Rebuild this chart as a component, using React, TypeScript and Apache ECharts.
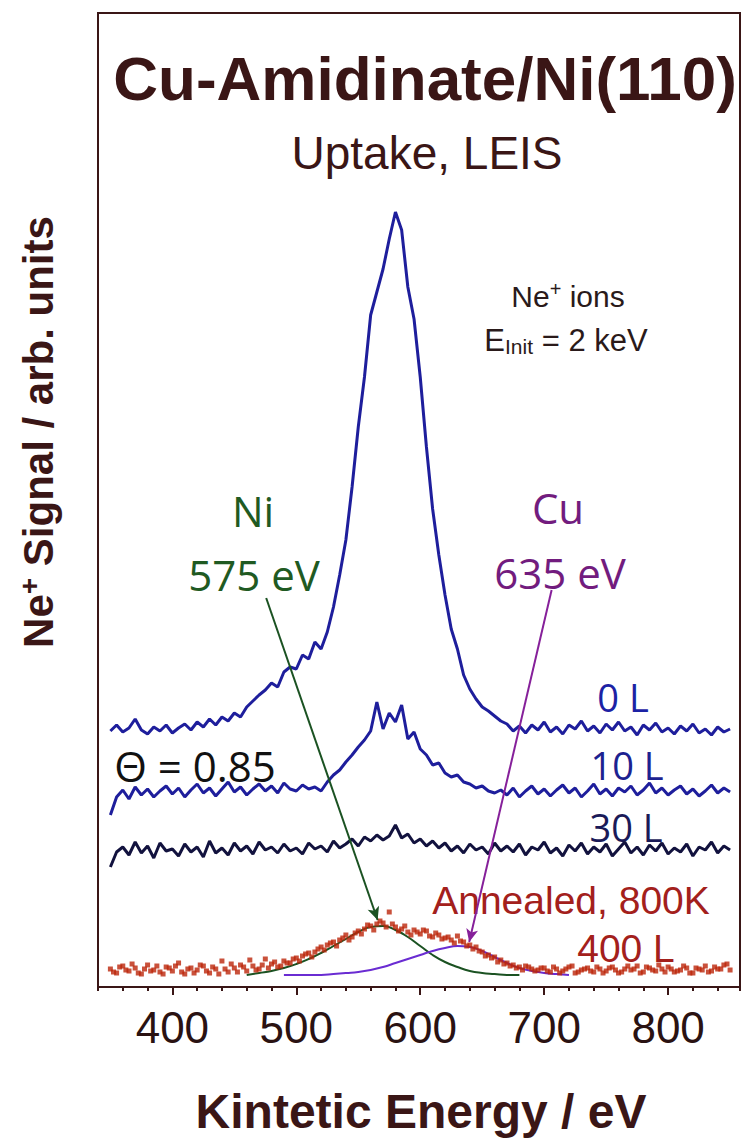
import { useEffect, useRef } from 'react';
import * as echarts from 'echarts';

// Energy grid of the line spectra (eV)
const E_START = 350;
const E_STEP = 5;

// Ne+ signal, arbitrary units (stacked offsets as in the figure)
const signal0L = [
  256, 262, 255, 259, 268, 257, 253, 260, 256, 262,
  254, 259, 263, 257, 265, 260, 268, 262, 270, 266,
  274, 270, 280, 286, 292, 297, 304, 300, 315, 320,
  318, 332, 328, 345, 338, 355, 380, 412, 447, 500,
  560, 610, 672, 695, 718, 748, 775, 757, 700, 668,
  610, 540, 478, 432, 392, 358, 338, 312, 298, 288,
  280, 276, 271, 266, 263, 256, 261, 254, 262, 257,
  265, 255, 260, 253, 262, 258, 266, 256, 261, 254,
  263, 257, 265, 256, 260, 252, 262, 257, 264, 255,
  259, 253, 261, 256, 263, 254, 258, 252, 260, 255,
  258,
];
const signal10L = [
  172, 190, 197, 188, 200, 192, 198, 190, 196, 201,
  193, 199, 190, 197, 203, 194, 199, 191, 198, 205,
  195, 200, 192, 198, 203, 196, 201, 194, 204, 198,
  196, 202, 198, 200, 196, 205, 212, 217, 225, 232,
  240, 247, 256, 285, 258, 274, 265, 282, 248, 255,
  238, 232, 222, 224, 214, 210, 212, 205, 203, 199,
  201, 196, 194, 197, 192, 199, 190, 196, 201, 193,
  198, 191, 197, 202, 194, 199, 190, 196, 203, 193,
  198, 191, 199, 195, 201, 192, 197, 204, 194, 199,
  192, 197, 201, 193, 198, 191, 196, 202, 194, 199,
  195,
];
const signal30L = [
  120, 135, 140, 132, 145, 134, 141, 129, 144, 136,
  138, 131, 143, 135, 140, 130, 146, 134, 139, 132,
  144, 136, 141, 133, 145, 137, 140, 134, 143, 136,
  139, 133, 144, 138, 141, 135, 146, 139, 143, 148,
  141, 150, 146, 152, 147, 151, 162, 149, 153, 144,
  148, 141, 146, 139, 144, 136, 141, 134, 143, 137,
  140, 133, 144, 136, 141, 135, 143, 132, 140, 137,
  145, 134, 139, 131, 142, 136, 144, 133, 140, 135,
  143, 131, 138, 145, 134, 140, 132, 142, 136, 144,
  133, 139, 135, 143, 131, 140, 137, 145, 134, 141,
  137,
];

// Annealed 800K, 400 L — scatter points, two interleaved sweeps
const ANNEAL_A_START = 350;
const ANNEAL_B_START = 352.5;
const annealedA = [
  18, 14, 21, 16, 19, 13, 22, 17, 15, 20,
  16, 24, 13, 19, 17, 21, 14, 18, 26, 15,
  19, 22, 16, 21, 18, 28, 23, 20, 26, 24,
  29, 31, 34, 35, 40, 42, 45, 47, 52, 50,
  56, 58, 61, 63, 64, 75, 60, 58, 55, 57,
  53, 56, 50, 52, 49, 47, 51, 45, 42, 40,
  35, 32, 30, 27, 24, 22, 20, 21, 18, 17,
  19, 15, 18, 16, 20, 14, 17, 19, 15, 18,
  16, 20, 14, 18, 17, 21, 15, 19, 16, 18,
  20, 15, 17, 19, 14, 18, 21, 16, 18, 22,
  17,
];
const annealedB = [
  15, 20, 17, 23, 14, 18, 16, 21, 13, 19,
  21, 15, 18, 14, 22, 16, 20, 13, 18, 23,
  15, 20, 27, 17, 22, 19, 25, 21, 24, 28,
  26, 33, 30, 38, 37, 44, 41, 49, 47, 54,
  53, 62, 57, 66, 60, 63, 56, 61, 52, 55,
  57, 51, 54, 48, 50, 44, 46, 41, 38, 36,
  31, 29, 25, 23, 21, 19, 17, 20, 16, 19,
  16, 20, 14, 18, 21, 15, 18, 16, 20, 14,
  19, 17, 15, 21, 18, 14, 20, 17, 22, 15,
  18, 16, 21, 14, 19, 17, 15, 20, 18, 23,
];

// Peak fits (10 eV grid)
const FIT_STEP = 10;
const NI_FIT_START = 460;
const niFit = [12, 14, 16, 19, 23, 28, 34, 41, 48, 55, 60, 61, 57, 50, 41, 32, 25, 20, 16, 14, 13, 12, 12];
const CU_FIT_START = 490;
const cuFit = [12, 12, 12, 12, 13, 14, 15, 17, 20, 24, 28, 32, 36, 39, 41, 40, 36, 30, 24, 19, 16, 14, 13, 12];

// Arrow annotations [energy, signal]
const niArrow = [[475.7, 389], [565.6, 67]];
const cuArrow = [[706, 397], [639.5, 45]];

const xMajorTicks = [400, 500, 600, 700, 800];

const toPairs = (vals: number[], start: number, step: number) =>
  vals.map((v, i) => [start + i * step, v]);

const INK = '#3a1616';
const HELV = "'Liberation Sans', Arial, Helvetica, sans-serif";
const CAL = "'Open Sans', 'Noto Sans', sans-serif";

export default function App() {
  const ref = useRef<HTMLDivElement>(null);
  useEffect(() => {
    const chart = echarts.init(ref.current!, null, { renderer: 'svg' });
    const option: any = {
      animation: false,
      backgroundColor: '#ffffff',
      grid: {
        left: 98, top: 13, right: 2, bottom: 155,
        show: true, borderColor: INK, borderWidth: 2,
      },
      xAxis: [
        {
          type: 'value', min: 340, max: 858, interval: 20, position: 'bottom',
          axisLine: { show: true, lineStyle: { color: INK, width: 2 } },
          axisTick: { show: true, length: 4, lineStyle: { color: INK, width: 2 } },
          axisLabel: {
            color: '#2a1212', fontSize: 44, fontFamily: HELV, margin: 18,
            formatter: (v: number) => (xMajorTicks.includes(v) ? String(v) : ''),
          },
          splitLine: { show: false },
        },
        {
          type: 'value', min: 340, max: 858, position: 'bottom',
          axisLine: { show: false },
          axisTick: { show: true, length: 8, customValues: xMajorTicks, lineStyle: { color: INK, width: 2 } },
          axisLabel: { show: false },
          splitLine: { show: false },
        },
      ],
      yAxis: {
        type: 'value', min: 0, max: 974,
        axisLine: { show: true, lineStyle: { color: INK, width: 2 } },
        axisTick: { show: false }, axisLabel: { show: false }, splitLine: { show: false },
      },
      series: [
        {
          name: '0 L', type: 'line', data: toPairs(signal0L, E_START, E_STEP),
          showSymbol: false, lineStyle: { color: '#1e1e9c', width: 3 }, z: 3,
        },
        {
          name: '10 L', type: 'line', data: toPairs(signal10L, E_START, E_STEP),
          showSymbol: false, lineStyle: { color: '#1e1e9c', width: 3 }, z: 3,
        },
        {
          name: '30 L', type: 'line', data: toPairs(signal30L, E_START, E_STEP),
          showSymbol: false, lineStyle: { color: '#12123e', width: 3 }, z: 3,
        },
        {
          name: 'Ni fit', type: 'line', data: toPairs(niFit, NI_FIT_START, FIT_STEP),
          smooth: true, showSymbol: false, lineStyle: { color: '#1b5222', width: 2 }, z: 2,
        },
        {
          name: 'Cu fit', type: 'line', data: toPairs(cuFit, CU_FIT_START, FIT_STEP),
          smooth: true, showSymbol: false, lineStyle: { color: '#6a2cd2', width: 2 }, z: 2,
        },
        {
          name: 'Annealed A', type: 'scatter', data: toPairs(annealedA, ANNEAL_A_START, E_STEP),
          symbol: 'rect', symbolSize: 5, itemStyle: { color: '#bb260a' }, z: 4,
        },
        {
          name: 'Annealed B', type: 'scatter', data: toPairs(annealedB, ANNEAL_B_START, E_STEP),
          symbol: 'rect', symbolSize: 5, itemStyle: { color: '#bb260a' }, z: 4,
        },
        {
          name: 'arrows', type: 'line', data: [], z: 6,
          markLine: {
            silent: true, animation: false,
            symbol: ['none', 'arrow'], symbolSize: [9, 13],
            label: { show: false },
            data: [
              [
                { coord: niArrow[0], lineStyle: { color: '#1b5222', width: 2, type: 'solid' }, itemStyle: { color: '#1b5222' } },
                { coord: niArrow[1] },
              ],
              [
                { coord: cuArrow[0], lineStyle: { color: '#86209a', width: 2, type: 'solid' }, itemStyle: { color: '#86209a' } },
                { coord: cuArrow[1] },
              ],
            ],
          },
        },
      ],
      graphic: [
        { type: 'text', x: 425, y: 78, style: { text: 'Cu-Amidinate/Ni(110)', fill: INK, font: `bold 62px ${HELV}`, align: 'center', verticalAlign: 'middle' } },
        { type: 'text', x: 427, y: 153, style: { text: 'Uptake, LEIS', fill: INK, font: `46px ${HELV}`, align: 'center', verticalAlign: 'middle' } },
        {
          type: 'text', x: 568, y: 296,
          style: {
            text: '{a|Ne}{s|+}{a| ions}', align: 'center', verticalAlign: 'middle', fill: '#2a1a1a',
            rich: { a: { fontSize: 30, fontFamily: HELV, fill: '#2a1a1a', lineHeight: 34 }, s: { fontSize: 20, fontFamily: HELV, fill: '#2a1a1a', verticalAlign: 'top', lineHeight: 20 } },
          },
        },
        {
          type: 'text', x: 566, y: 340,
          style: {
            text: '{a|E}{b|Init}{a| = 2 keV}', align: 'center', verticalAlign: 'middle', fill: '#2a1a1a',
            rich: { a: { fontSize: 31, fontFamily: HELV, fill: '#2a1a1a', lineHeight: 34 }, b: { fontSize: 21, fontFamily: HELV, fill: '#2a1a1a', verticalAlign: 'bottom', lineHeight: 22 } },
          },
        },
        { type: 'text', x: 253, y: 510, style: { text: 'Ni', fill: '#1f5a22', font: `42px ${CAL}`, align: 'center', verticalAlign: 'middle' } },
        { type: 'text', x: 254, y: 574, style: { text: '575 eV', fill: '#1f5a22', font: `42px ${CAL}`, align: 'center', verticalAlign: 'middle' } },
        { type: 'text', x: 558, y: 507, style: { text: 'Cu', fill: '#721c7e', font: `42px ${CAL}`, align: 'center', verticalAlign: 'middle' } },
        { type: 'text', x: 560, y: 572, style: { text: '635 eV', fill: '#721c7e', font: `42px ${CAL}`, align: 'center', verticalAlign: 'middle' } },
        { type: 'text', x: 623, y: 697, style: { text: '0 L', fill: '#1c22a4', font: `38px ${CAL}`, align: 'center', verticalAlign: 'middle' } },
        { type: 'text', x: 627, y: 765, style: { text: '10 L', fill: '#1c2290', font: `38px ${CAL}`, align: 'center', verticalAlign: 'middle' } },
        { type: 'text', x: 626, y: 827, style: { text: '30 L', fill: '#1a1a58', font: `38px ${CAL}`, align: 'center', verticalAlign: 'middle' } },
        { type: 'text', x: 195, y: 765, style: { text: 'Θ = 0.85', fill: '#111111', font: `42px ${CAL}`, align: 'center', verticalAlign: 'middle' } },
        { type: 'text', x: 571, y: 900, style: { text: 'Annealed, 800K', fill: '#a3201c', font: `39px ${HELV}`, align: 'center', verticalAlign: 'middle' } },
        { type: 'text', x: 626, y: 948, style: { text: '400 L', fill: '#a3201c', font: `39px ${HELV}`, align: 'center', verticalAlign: 'middle' } },
        {
          type: 'text', x: 38, y: 432, rotation: Math.PI / 2,
          style: {
            text: '{a|Ne}{s|+}{a| Signal / arb. units}', align: 'center', verticalAlign: 'middle', fill: INK,
            rich: { a: { fontSize: 42, fontWeight: 'bold', fontFamily: HELV, fill: INK, lineHeight: 46 }, s: { fontSize: 28, fontWeight: 'bold', fontFamily: HELV, fill: INK, verticalAlign: 'top', lineHeight: 28 } },
          },
        },
        { type: 'text', x: 421, y: 1111, style: { text: 'Kintetic Energy / eV', fill: INK, font: `bold 48px ${HELV}`, align: 'center', verticalAlign: 'middle' } },
      ],
    };
    chart.setOption(option);
    return () => chart.dispose();
  }, []);
  return <div ref={ref} style={{ position: 'fixed', left: 0, top: 0, width: 743, height: 1142 }} />;
}
